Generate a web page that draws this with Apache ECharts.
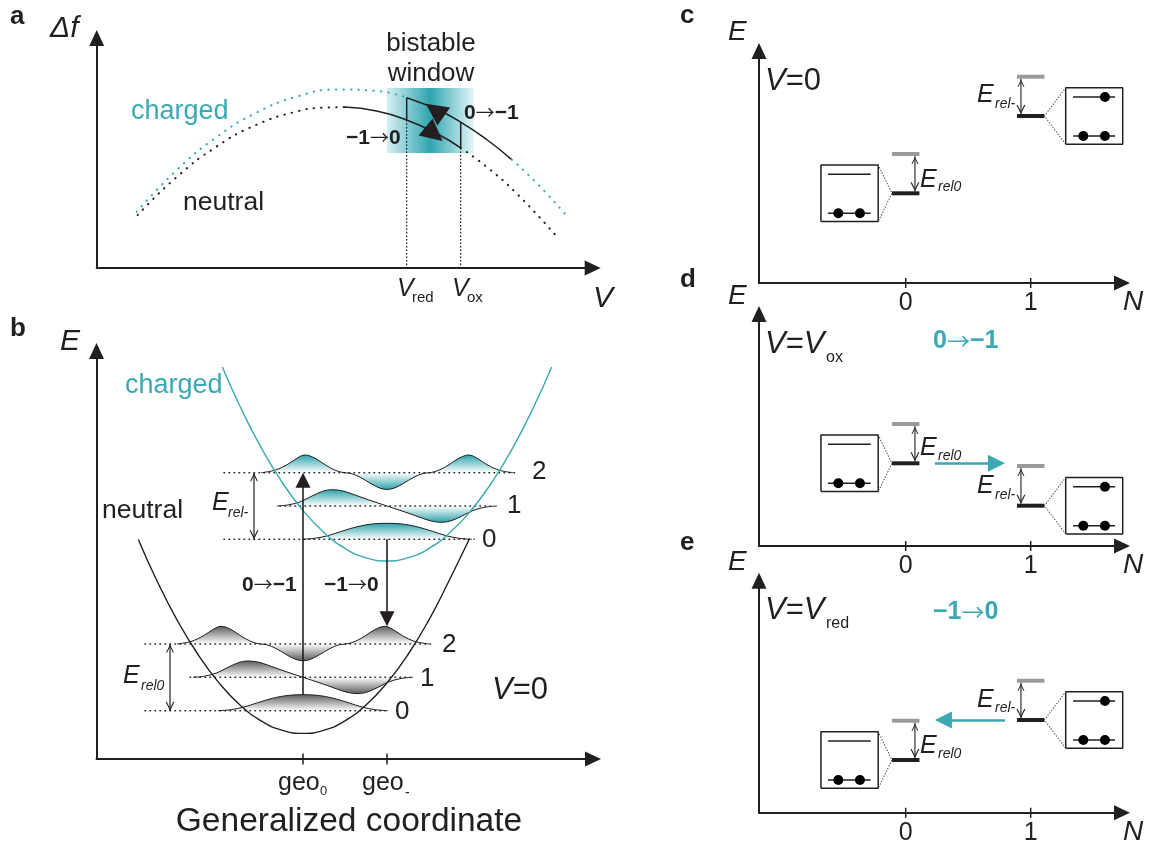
<!DOCTYPE html>
<html><head><meta charset="utf-8">
<script src="https://cdn.jsdelivr.net/npm/echarts@6/dist/echarts.min.js"></script>
<style>html,body{margin:0;padding:0;background:#fff}#c{width:1149px;height:850px}</style>
</head><body><div id="c"></div>
<script>
// ================= DATA =================
// Panel a: frequency shift vs bias (arbitrary units)
const aNeutralDottedL = [[4.1,5.3],[8,9.1],[12,12.15],[16,14.33],[20,15.65],[22.5,16.03],[24.8,16.09]];
const aNeutralSolid   = [[24.8,16.09],[28,15.69],[31.0,14.8],[34,13.45],[36.4,12.02]];
const aNeutralDottedR = [[36.4,12.02],[39,10.11],[42,7.45],[45.9,3.27]];
const aChargedDottedL = [[4.0,5.62],[8,9.79],[12,13.1],[16,15.55],[20,17.13],[24,17.85],[28,17.71],[31.0,17.03]];
const aChargedSolid   = [[31.0,17.03],[34,15.87],[36.4,14.59],[39,12.85],[41.5,10.84]];
const aChargedDottedR = [[41.5,10.84],[44,8.49],[46.8,5.45]];
const aVred = 31.0, aVox = 36.4;
const aWindowV = [29.0, 37.7];
const aWindowDf = [11.5, 18.0];
const aLoopArrows = [[[34.63,15.2],[33.81,15.78]], [[32.97,14.04],[33.74,13.4]]];

// Panel b: potential wells and vibrational wavefunctions
const bGeoTicks = [0, 1];
const bNeutralWell = [[-1.96,21.96],[-1.75,18.03],[-1.5,13.92],[-1.25,10.45],[-1.0,7.61],[-0.75,5.40],[-0.5,3.82],[-0.25,2.88],[0,2.56],[0.25,2.88],[0.5,3.82],[0.75,5.40],[1.0,7.61],[1.25,10.45],[1.5,13.92],[1.75,18.03],[1.98,22.0]];
const bChargedWell = [[-0.96,39.2],[-0.75,35.27],[-0.5,31.16],[-0.25,27.69],[0,24.85],[0.25,22.64],[0.5,21.06],[0.75,20.12],[1.0,19.8],[1.25,20.12],[1.5,21.06],[1.75,22.64],[2.0,24.85],[2.25,27.69],[2.5,31.16],[2.75,35.27],[2.96,39.2]];
const bNeutralLevels = [4.83, 8.17, 11.5];
const bChargedLevels = [21.97, 25.3, 28.63];
const bNeutralBaseFrom = [-1.881, -1.345, -1.881];
const bNeutralBaseTo   = [1.0, 1.274, 1.536];
const bChargedBaseFrom = [-0.94, -0.274, -0.94];
const bChargedBaseTo   = [2.036, 2.226, 2.548];
const psi0Dx  = [-1.01,-0.86,-0.71,-0.54,-0.36,-0.18,0,0.18,0.36,0.54,0.71,0.86,1.01];
const psi0Amp = [0,0.1,0.35,0.8,1.25,1.53,1.6,1.53,1.25,0.8,0.35,0.1,0];
const psi1Dx  = [-1.31,-1.167,-1.024,-0.881,-0.762,-0.655,-0.524,-0.381,-0.214,0,0.214,0.381,0.524,0.655,0.762,0.881,1.024,1.167,1.31];
const psi1Amp = [0,0.12,0.45,1.05,1.48,1.63,1.5,1.1,0.6,0,-0.6,-1.1,-1.5,-1.63,-1.48,-1.05,-0.45,-0.12,0];
const psi2Dx  = [-1.5,-1.333,-1.19,-1.071,-0.976,-0.857,-0.738,-0.619,-0.524,-0.429,-0.321,-0.19,-0.083,0,0.083,0.19,0.321,0.429,0.524,0.619,0.738,0.857,0.976,1.071,1.19,1.333,1.5];
const psi2Amp = [0,0.25,0.8,1.45,1.77,1.45,0.8,0.25,0.02,-0.08,-0.45,-1.1,-1.55,-1.67,-1.55,-1.1,-0.45,-0.08,0.02,0.25,0.8,1.45,1.77,1.45,0.8,0.25,0];
const bErelNeutralX = -1.583, bErelChargedX = -0.583;
const bArrowUp   = [[0, 6.43], [0, 28.63]];
const bArrowDown = [[1, 21.97], [1, 13.27]];

// Panels c-e: energy vs charge state N
const nTicks = [0, 1];
const cLevels = [8.97, 16.7],  cGray = [12.9, 20.63];
const dLevels = [8.27, 4.03],  dGray = [12.2, 8.0];
const eLevels = [5.27, 9.27],  eGray = [9.2, 13.2];
const dTransfer = [0.234, 0.794];
const eTransfer = [0.794, 0.234];

// ================= STYLE / LAYOUT =================
const FONT = '"Liberation Sans", Arial, Helvetica, sans-serif';
const ARROWFONT = '"Noto Sans CJK SC", "DejaVu Sans", sans-serif';
const INK = '#231f20', TEAL = '#3aa9b4', GREY = '#9b9b9b';
const CHEV = 'path://M0,10 L5,0 L10,10 L8.6,10 L5,2.8 L1.4,10 Z';

function L(gi, data, o) {
  o = o || {};
  const s = { type: 'line', xAxisIndex: gi, yAxisIndex: gi, data: data, symbol: 'none', showSymbol: false,
    clip: false, silent: true, animation: false, smooth: o.smooth || false, z: o.z || 2,
    lineStyle: { color: o.color || INK, width: o.width == null ? 1.5 : o.width, type: o.dash || 'solid', cap: o.cap || 'butt' } };
  if (o.area) s.areaStyle = o.area;
  if (o.markArea) s.markArea = o.markArea;
  return s;
}
function ARW(gi, segs, o) {
  return { type: 'lines', coordinateSystem: 'cartesian2d', xAxisIndex: gi, yAxisIndex: gi, silent: true, animation: false,
    z: o.z || 5, symbol: o.symbol, symbolSize: o.size,
    lineStyle: { color: o.color || INK, width: o.width, opacity: 1, curveness: 0 },
    data: segs.map(c => ({ coords: c })) };
}
function DOTS(gi, data, size) {
  return { type: 'scatter', xAxisIndex: gi, yAxisIndex: gi, data: data, symbol: 'circle', symbolSize: size,
    itemStyle: { color: '#000', opacity: 1 }, clip: false, silent: true, animation: false, z: 6 };
}

const series = [];

// ---------- Panel a ----------
const DOT_A = [0.5, 7];
series.push(L(0, aNeutralDottedL, { smooth: true, dash: DOT_A, cap: 'round', width: 2,
  markArea: { silent: true, label: { show: false },
    itemStyle: { color: { type: 'linear', x: 0, y: 0, x2: 1, y2: 0,
      colorStops: [{ offset: 0, color: '#d6f0f3' }, { offset: 0.5, color: '#2fa5af' }, { offset: 1, color: '#e4f6f8' }] } },
    data: [[{ coord: [aWindowV[0], aWindowDf[0]] }, { coord: [aWindowV[1], aWindowDf[1]] }]] } }));
series.push(L(0, aNeutralSolid, { smooth: true, width: 1.5 }));
series.push(L(0, aNeutralDottedR, { smooth: true, dash: DOT_A, cap: 'round', width: 2 }));
series.push(L(0, aChargedDottedL, { smooth: true, dash: DOT_A, cap: 'round', width: 2, color: TEAL }));
series.push(L(0, aChargedSolid, { smooth: true, width: 1.5 }));
series.push(L(0, aChargedDottedR, { smooth: true, dash: DOT_A, cap: 'round', width: 2, color: TEAL }));
series.push(L(0, [[aVred, aNeutralSolid[2][1]], [aVred, aChargedDottedL[aChargedDottedL.length - 1][1]]], { width: 1.5 }));
series.push(L(0, [[aVox, aNeutralSolid[aNeutralSolid.length - 1][1]], [aVox, aChargedSolid[2][1]]], { width: 1.5 }));
series.push(L(0, [[aVred, 0], [aVred, aNeutralSolid[2][1]]], { dash: [0.5, 3], cap: 'round', width: 1.3 }));
series.push(L(0, [[aVox, 0], [aVox, aNeutralSolid[aNeutralSolid.length - 1][1]]], { dash: [0.5, 3], cap: 'round', width: 1.3 }));
series.push(ARW(0, aLoopArrows, { symbol: ['none', 'triangle'], size: [13, 22], width: 0 }));

// ---------- Panel b ----------
function wave(center, base, dx, amp) { return dx.map((d, i) => [center + d, base + amp[i]]); }
const psiDx = [psi0Dx, psi1Dx, psi2Dx], psiAmp = [psi0Amp, psi1Amp, psi2Amp];
function grad(n, dark) {
  const mx = Math.max.apply(null, psiAmp[n]), mn = Math.min.apply(null, psiAmp[n]);
  const f = mx / (mx - mn);
  const stops = [{ offset: 0, color: dark }, { offset: Math.min(f, 1), color: '#ffffff' }];
  if (f < 1) stops.push({ offset: 1, color: dark });
  return { type: 'linear', x: 0, y: 0, x2: 0, y2: 1, colorStops: stops };
}
const manifolds = [
  { c: 0, lv: bNeutralLevels, from: bNeutralBaseFrom, to: bNeutralBaseTo, dark: '#5e5e5e' },
  { c: 1, lv: bChargedLevels, from: bChargedBaseFrom, to: bChargedBaseTo, dark: '#2ea3ad' }
];
manifolds.forEach(m => {
  for (let n = 0; n < 3; n++) {
    series.push(L(1, wave(m.c, m.lv[n], psiDx[n], psiAmp[n]), { smooth: 0.35, width: 0,
      area: { origin: m.lv[n], color: grad(n, m.dark), opacity: 1 } }));
  }
});
manifolds.forEach(m => {
  for (let n = 0; n < 3; n++) {
    series.push(L(1, [[m.from[n], m.lv[n]], [m.to[n], m.lv[n]]], { dash: [0.5, 4.5], cap: 'round', width: 1.6 }));
  }
});
manifolds.forEach(m => {
  for (let n = 0; n < 3; n++) {
    series.push(L(1, wave(m.c, m.lv[n], psiDx[n], psiAmp[n]), { smooth: 0.35, width: 1 }));
  }
});
series.push(L(1, bNeutralWell, { smooth: true, width: 1.4 }));
series.push(L(1, bChargedWell, { smooth: true, width: 1.4, color: TEAL }));
series.push(ARW(1, [[bArrowUp[0], [bArrowUp[1][0], bArrowUp[1][1] - 0.75]]], { symbol: ['none', 'triangle'], size: [13, 15], width: 1.6 }));
series.push(ARW(1, [[bArrowDown[0], [bArrowDown[1][0], bArrowDown[1][1] + 0.75]]], { symbol: ['none', 'triangle'], size: [13, 15], width: 1.6 }));
[[bErelChargedX, bChargedLevels[0], bChargedLevels[2]], [bErelNeutralX, bNeutralLevels[0], bNeutralLevels[2]]].forEach(a => {
  series.push(L(1, [[a[0], a[1]], [a[0], a[2]]], { width: 1.2 }));
  series.push(ARW(1, [[[a[0], a[2] - 0.45], [a[0], a[1] + 0.45]]], { symbol: [CHEV, CHEV], size: [8, 9], width: 0 }));
});
bGeoTicks.forEach(t => series.push(L(1, [[t, -0.55], [t, 0.55]], { width: 1.5 })));

// ---------- Panels c, d, e ----------
function panelN(gi, levels, gray, transfer) {
  nTicks.forEach(t => series.push(L(gi, [[t, -0.5], [t, 0.5]], { width: 1.5 })));
  [0, 1].forEach(n => {
    const Lv = levels[n], G = gray[n];
    series.push(L(gi, [[n - 0.11, G], [n + 0.11, G]], { width: 4, color: GREY }));
    series.push(L(gi, [[n - 0.11, Lv], [n + 0.11, Lv]], { width: 4 }));
    const ax = n === 0 ? n + 0.074 : n - 0.078;
    series.push(L(gi, [[ax, Lv + 0.2], [ax, G - 0.2]], { width: 1.1 }));
    series.push(ARW(gi, [[[ax, G - 0.2 - 0.45], [ax, Lv + 0.2 + 0.45]]], { symbol: [CHEV, CHEV], size: [7, 9], width: 0 }));
    const bx = n === 0 ? [-0.678, -0.22] : [1.28, 1.736];
    const ix = n === 0 ? [-0.622, -0.28] : [1.339, 1.675];
    const top = Lv + 2.83, bot = Lv - 2.83;
    series.push(L(gi, [[bx[0], bot], [bx[1], bot], [bx[1], top], [bx[0], top], [bx[0], bot]], { width: 1.5 }));
    const barEnd = n === 0 ? n - 0.11 : n + 0.11;
    const boxEdge = n === 0 ? bx[1] : bx[0];
    series.push(L(gi, [[boxEdge, top], [barEnd, Lv], [boxEdge, bot]], { dash: [0.5, 2.4], cap: 'round', width: 1.1, color: '#555' }));
    series.push(L(gi, [[ix[0], Lv + 1.9], [ix[1], Lv + 1.9]], { width: 1.5 }));
    series.push(L(gi, [[ix[0], Lv - 2.0], [ix[1], Lv - 2.0]], { width: 1.5 }));
    const dots = n === 0 ? [[-0.539, Lv - 2.0], [-0.366, Lv - 2.0]]
                         : [[1.421, Lv - 2.0], [1.594, Lv - 2.0], [1.594, Lv + 1.9]];
    series.push(DOTS(gi, dots, 10));
  });
  if (transfer) {
    const y = transfer[0] < transfer[1] ? levels[0] : levels[1];
    const dir = transfer[1] > transfer[0] ? 1 : -1;
    series.push(ARW(gi, [[[transfer[0], y], [transfer[1] - dir * 0.068, y]]], { symbol: ['none', 'triangle'], size: [15, 17], width: 2.6, color: TEAL, z: 7 }));
  }
}
panelN(2, cLevels, cGray, null);
panelN(3, dLevels, dGray, dTransfer);
panelN(4, eLevels, eGray, eTransfer);

// ================= AXES =================
function ax(gi, min, max, extra) {
  return Object.assign({ type: 'value', gridIndex: gi, min: min, max: max,
    axisLine: { show: true, onZero: false, symbol: ['none', 'triangle'], symbolSize: [15, 16], lineStyle: { color: INK, width: 2 } },
    axisTick: { show: false }, axisLabel: { show: false }, splitLine: { show: false } }, extra || {});
}
const nLabel = { show: true, customValues: nTicks, fontSize: 25, color: INK, margin: 8, fontFamily: FONT };
const grids = [
  { left: 96.7, top: 38, width: 496, height: 230 },
  { left: 96.5, top: 351, width: 496.5, height: 408 },
  { left: 759, top: 51, width: 363, height: 232 },
  { left: 759, top: 314, width: 363, height: 232 },
  { left: 759, top: 580.7, width: 363, height: 232 }
];
const xAxes = [ax(0, 0, 49.6), ax(1, -2.458, 3.452),
  ax(2, -1.1736, 1.7304, { axisLabel: nLabel }), ax(3, -1.1736, 1.7304, { axisLabel: nLabel }), ax(4, -1.1736, 1.7304, { axisLabel: nLabel })];
const yAxes = [ax(0, 0, 23), ax(1, 0, 40.8), ax(2, 0, 23.2), ax(3, 0, 23.2), ax(4, 0, 23.2)];

// ================= TEXT =================
const texts = [];
function T(x, y, text, size, o) {
  o = o || {};
  const col = o.color || INK;
  const font = (o.italic ? 'italic ' : '') + (o.bold ? 'bold ' : '') + size + 'px ' + FONT;
  const style = { text: text, font: font, fill: col, align: o.align || 'left', textAlign: o.align || 'left',
    verticalAlign: 'middle', textVerticalAlign: 'middle',
    rich: {
      i: { fontStyle: 'italic', fontSize: size, fontFamily: FONT, fill: col, textFill: col },
      ar: { fontStyle: 'normal', fontFamily: ARROWFONT, fontWeight: 'normal', fontSize: Math.round(size * 0.9), fill: col, textFill: col }
    } };
  texts.push({ type: 'text', x: x, y: y, style: style, silent: true, z: 100 });
}
// a
T(10, 17, 'a', 26, { bold: true });
T(50, 29, 'Δf', 30, { italic: true });
T(593, 299, 'V', 30, { italic: true });
T(397, 289, 'V', 25, { italic: true }); T(412, 298, 'red', 15);
T(452, 289, 'V', 25, { italic: true }); T(467, 298, 'ox', 15);
T(431, 44, 'bistable', 26, { align: 'center' }); T(431, 74, 'window', 26, { align: 'center' });
T(131, 112, 'charged', 27, { color: TEAL });
T(183, 203, 'neutral', 26.5);
T(346, 138, '−1{ar|→}0', 21, { bold: true });
T(464, 113, '0{ar|→}−1', 21, { bold: true });
// b
T(10, 329, 'b', 26, { bold: true });
T(60, 342, 'E', 30, { italic: true });
T(125, 386, 'charged', 27, { color: TEAL });
T(102, 511, 'neutral', 26.5);
T(212, 503, 'E', 25, { italic: true }); T(228, 513, 'rel-', 14, { italic: true });
T(123, 676, 'E', 25, { italic: true }); T(141, 686, 'rel0', 14, { italic: true });
T(482, 540, '0', 26); T(507, 506, '1', 26); T(532, 472, '2', 26);
T(395, 712, '0', 26); T(420, 679, '1', 26); T(442, 645, '2', 26);
T(242, 585, '0{ar|→}−1', 21, { bold: true }); T(324, 585, '−1{ar|→}0', 21, { bold: true });
T(492, 690, '{i|V}=0', 31);
T(278, 783, 'geo', 25); T(320, 791, '0', 13);
T(362, 783, 'geo', 25); T(405, 793, '-', 14);
T(349, 822, 'Generalized coordinate', 33.5, { align: 'center' });
// c
T(680, 16, 'c', 26, { bold: true }); T(728, 32, 'E', 28, { italic: true });
T(765, 81, '{i|V}=0', 31);
T(920, 180, 'E', 25, { italic: true }); T(938, 187, 'rel0', 14, { italic: true });
T(977, 95, 'E', 25, { italic: true }); T(995, 104, 'rel-', 14, { italic: true });
T(1123, 302, 'N', 28, { italic: true });
// d
T(680, 280, 'd', 26, { bold: true }); T(728, 296, 'E', 28, { italic: true });
T(765, 344, '{i|V}={i|V}', 31); T(826, 358, 'ox', 16);
T(933, 341, '0{ar|→}−1', 25, { bold: true, color: TEAL });
T(920, 448, 'E', 25, { italic: true }); T(938, 456, 'rel0', 14, { italic: true });
T(977, 486, 'E', 25, { italic: true }); T(995, 495, 'rel-', 14, { italic: true });
T(1123, 565, 'N', 28, { italic: true });
// e
T(680, 543, 'e', 26, { bold: true }); T(728, 562, 'E', 28, { italic: true });
T(765, 610, '{i|V}={i|V}', 31); T(826, 624, 'red', 16);
T(933, 612, '−1{ar|→}0', 25, { bold: true, color: TEAL });
T(977, 700, 'E', 25, { italic: true }); T(995, 708, 'rel-', 14, { italic: true });
T(920, 746, 'E', 25, { italic: true }); T(938, 754, 'rel0', 14, { italic: true });
T(1123, 832, 'N', 28, { italic: true });

const chart = echarts.init(document.getElementById('c'), null, { renderer: 'canvas' });
chart.setOption({
  animation: false,
  backgroundColor: '#ffffff',
  textStyle: { fontFamily: FONT },
  grid: grids,
  xAxis: xAxes,
  yAxis: yAxes,
  series: series,
  graphic: { elements: texts }
});
</script></body></html>
